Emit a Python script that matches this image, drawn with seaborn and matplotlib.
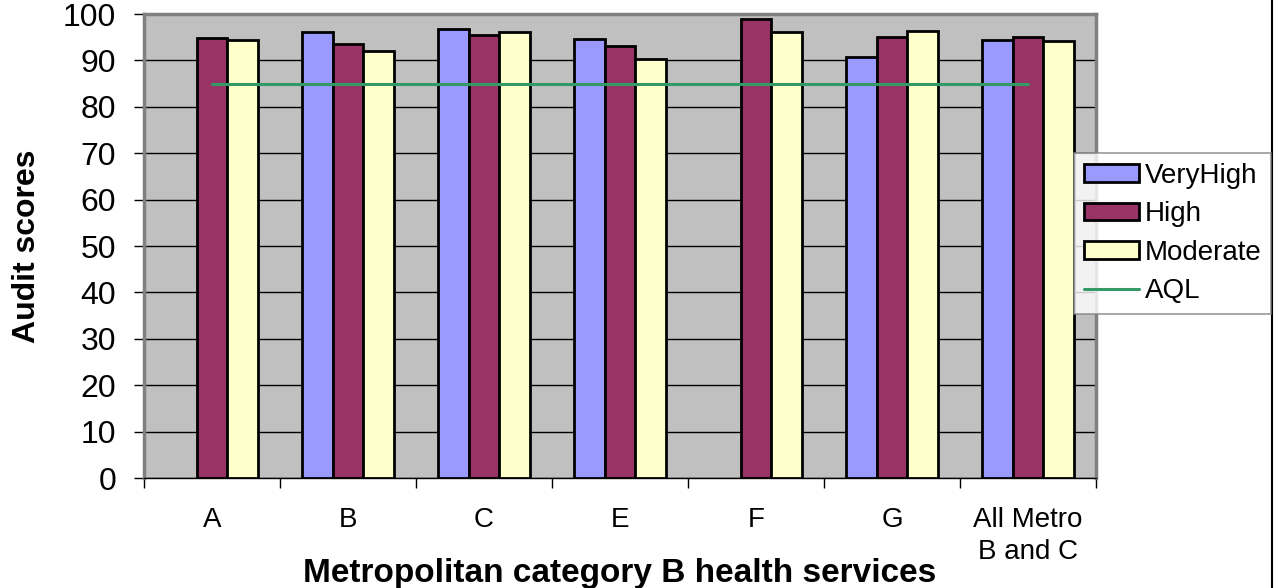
import numpy as np
import pandas as pd
import matplotlib
matplotlib.use("Agg")
import matplotlib.pyplot as plt
from matplotlib.patches import Patch
from matplotlib.lines import Line2D
import seaborn as sns

categories = ["A", "B", "C", "E", "F", "G", "All Metro\nB and C"]
very_high = [np.nan, 96.1, 96.8, 94.7, np.nan, 90.8, 94.4]
high = [94.8, 93.6, 95.5, 93.0, 98.9, 95.1, 95.1]
moderate = [94.5, 92.1, 96.1, 90.2, 96.2, 96.3, 94.2]
aql = [85, 85, 85, 85, 85, 85, 85]
series_names = ["VeryHigh", "High", "Moderate"]
colors = {"VeryHigh": "#9999FF", "High": "#993366", "Moderate": "#FFFFCC"}
aql_color = "#339966"

rows = []
for name, vals in zip(series_names, [very_high, high, moderate]):
    for c, v in zip(categories, vals):
        rows.append({"cat": c, "series": name, "score": v})
df = pd.DataFrame(rows)

sns.set_style("white")
plt.rcParams["font.family"] = ["Liberation Sans", "DejaVu Sans"]
plt.rcParams["text.color"] = "black"
plt.rcParams["axes.labelcolor"] = "black"
plt.rcParams["xtick.color"] = "black"
plt.rcParams["ytick.color"] = "black"

fig = plt.figure(figsize=(12.8, 5.88), dpi=100)
ax = fig.add_axes([144 / 1280, (588 - 478) / 588, (1096 - 144) / 1280, (478 - 14) / 588])
ax.set_facecolor("#C0C0C0")

sns.barplot(data=df, x="cat", y="score", hue="series", order=categories,
            hue_order=series_names, palette=colors, width=0.68,
            edgecolor="black", linewidth=2, saturation=1, ax=ax, legend=False,
            errorbar=None, zorder=3)

ax.plot(np.arange(len(categories)), aql, color=aql_color, lw=2.2, zorder=4)

ax.set_ylim(0, 100)
ax.set_xlim(-0.5, len(categories) - 0.5)
ax.set_yticks(np.arange(0, 101, 10))
ax.yaxis.grid(True, color="black", lw=1, zorder=0)
ax.set_axisbelow(True)
ax.tick_params(axis="y", which="major", direction="out", length=7, width=1,
               color="black", labelsize=23, pad=13, left=True)
ax.set_xticks(np.arange(len(categories)))
ax.set_xticklabels(categories, fontsize=20, linespacing=1.3)
ax.set_xticks(np.arange(-0.5, len(categories)), minor=True)
ax.tick_params(axis="x", which="major", length=0, pad=21)
ax.tick_params(axis="x", which="minor", direction="out", length=7, width=1,
               color="black", bottom=True)
for s in ax.spines.values():
    s.set_color("#808080")
    s.set_linewidth(2.5)
ax.spines["bottom"].set_color("black")
ax.spines["bottom"].set_linewidth(1)

ax.set_xlabel("Metropolitan category B health services", fontsize=24,
              fontweight="bold")
ax.xaxis.set_label_coords(0.5, -104 / 464)
ax.xaxis.label.set_verticalalignment("baseline")
ax.set_ylabel("Audit scores", fontsize=23, fontweight="bold", labelpad=15)

handles = [Patch(facecolor=colors[n], edgecolor="black", linewidth=2) for n in series_names]
handles.append(Line2D([0], [0], color=aql_color, lw=2.2))
leg = fig.legend(handles, series_names + ["AQL"], loc="upper left",
                 bbox_to_anchor=(1074 / 1280, 1 - 153 / 588), fontsize=20,
                 frameon=True, fancybox=False, edgecolor="#808080",
                 handlelength=2.0, handleheight=0.6, handletextpad=0.2,
                 labelspacing=0.45, borderpad=0.35, borderaxespad=0)
leg.get_frame().set_linewidth(1.2)

fig.add_artist(Line2D([1272 / 1280, 1272 / 1280], [0, 1], color="black", lw=1.5))

fig.savefig("out.png", dpi=100)
